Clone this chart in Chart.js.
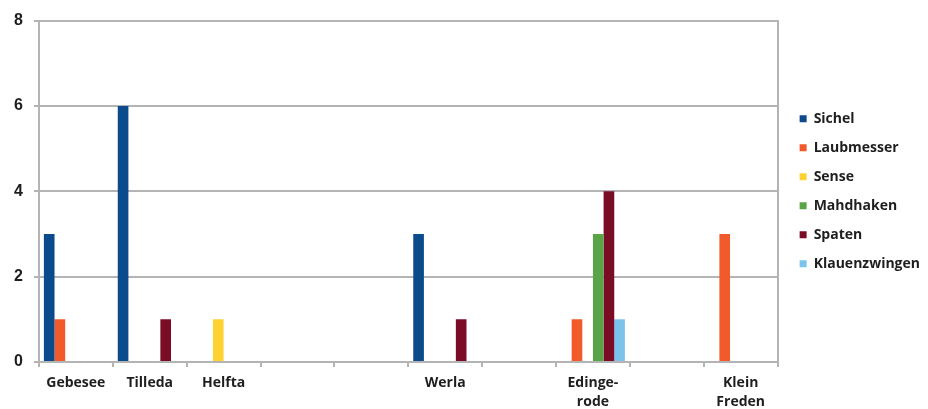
<!DOCTYPE html>
<html>
<head>
<meta charset="utf-8">
<script src="https://cdn.jsdelivr.net/npm/chart.js@4.4.1/dist/chart.umd.min.js"></script>
<style>
  html, body { margin: 0; padding: 0; background: #ffffff; }
  #wrap { width: 928px; height: 409px; position: relative; }
</style>
</head>
<body>
<div id="wrap"><canvas id="chart" width="928" height="409"></canvas></div>
<script>
// Find sites (empty strings are spacer positions on the axis)
const sites = [
  'Gebesee', 'Tilleda', 'Helfta', '', '', 'Werla', '', ['Edinge-', 'rode'], '', ['Klein', 'Freden']
];

// Number of finds per tool type, one value per site
const sichel        = [3, 6, 0, 0, 0, 3, 0, 0, 0, 0];
const laubmesser    = [1, 0, 0, 0, 0, 0, 0, 1, 0, 3];
const sense         = [0, 0, 1, 0, 0, 0, 0, 0, 0, 0];
const mahdhaken     = [0, 0, 0, 0, 0, 0, 0, 3, 0, 0];
const spaten        = [0, 1, 0, 0, 0, 1, 0, 4, 0, 0];
const klauenzwingen = [0, 0, 0, 0, 0, 0, 0, 1, 0, 0];

const yTicks = [0, 2, 4, 6, 8];

const gridGray = '#b4b4b4';
const textDark = '#1e1e1e';

const series = [
  { label: 'Sichel',        data: sichel,        color: '#0b4a8b' },
  { label: 'Laubmesser',    data: laubmesser,    color: '#f15a2b' },
  { label: 'Sense',         data: sense,         color: '#fdd232' },
  { label: 'Mahdhaken',     data: mahdhaken,     color: '#58a446' },
  { label: 'Spaten',        data: spaten,        color: '#7a0d25' },
  { label: 'Klauenzwingen', data: klauenzwingen, color: '#7cc3ec' }
];

new Chart(document.getElementById('chart'), {
  type: 'bar',
  data: {
    labels: sites,
    datasets: series.map(s => ({
      label: s.label,
      data: s.data,
      backgroundColor: s.color,
      borderWidth: 0,
      categoryPercentage: 0.865,
      barPercentage: 1.0
    }))
  },
  options: {
    responsive: false,
    animation: false,
    layout: { padding: { top: 10, right: -2, left: 3, bottom: -10 } },
    plugins: {
      tooltip: { enabled: false },
      legend: {
        position: 'right',
        align: 'center',
        fullSize: false,
        labels: {
          boxWidth: 7,
          boxHeight: 7,
          padding: 15,
          color: textDark,
          font: { family: '"Open Sans", "Noto Sans", sans-serif', size: 14, weight: 'bold' }
        }
      }
    },
    scales: {
      x: {
        grid: {
          drawOnChartArea: false,
          drawTicks: true,
          tickLength: 5,
          tickColor: gridGray,
          lineWidth: 2,
          offset: true
        },
        border: { display: true, color: gridGray, width: 2 },
        ticks: {
          color: textDark,
          maxRotation: 0,
          autoSkip: false,
          padding: 7,
          font: { family: '"Open Sans", "Noto Sans", sans-serif', size: 14, weight: 'bold', lineHeight: '19px' }
        }
      },
      y: {
        min: 0,
        max: 8,
        afterBuildTicks: axis => { axis.ticks = yTicks.map(v => ({ value: v })); },
        grid: { color: gridGray, lineWidth: 2, tickLength: 5 },
        border: { display: true, color: gridGray, width: 2 },
        ticks: {
          color: textDark,
          padding: 11,
          font: { family: '"Liberation Sans", Arial, sans-serif', size: 16, weight: 'bold' }
        }
      },
      frameRight: {
        position: 'right',
        min: 0,
        max: 8,
        grid: { display: false, drawTicks: false },
        ticks: { display: false },
        border: { display: true, color: gridGray, width: 2 },
        afterFit: axis => { axis.width = 7; }
      }
    }
  }
});
</script>
</body>
</html>
